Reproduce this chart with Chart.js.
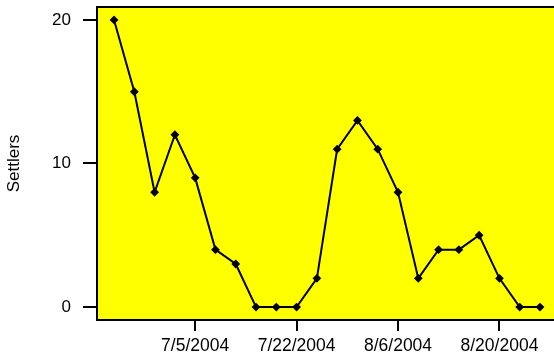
<!DOCTYPE html>
<html>
<head>
<meta charset="utf-8">
<script src="https://cdn.jsdelivr.net/npm/chart.js@4/dist/chart.umd.min.js"></script>
<style>
  body { margin: 0; background: #fff; }
  #wrap { width: 554px; height: 355px; }
</style>
</head>
<body>
<div id="wrap"><canvas id="settlersChart" width="554" height="355"></canvas></div>
<script>
// sampling dates, one per point
const dates = [
    '6/21/2004', '6/24/2004', '6/28/2004', '7/1/2004', '7/5/2004',
    '7/8/2004', '7/12/2004', '7/15/2004', '7/19/2004', '7/22/2004',
    '7/25/2004', '7/28/2004', '7/31/2004', '8/3/2004', '8/6/2004',
    '8/9/2004', '8/12/2004', '8/15/2004', '8/17/2004', '8/20/2004',
    '8/24/2004', '8/27/2004'
];
const settlers = [20, 15, 8, 12, 9, 4, 3, 0, 0, 0, 2, 11, 13, 11, 8, 2, 4, 4, 5, 2, 0, 0];
const xTickIndex = [4, 9, 14, 19];
const yTicks = [0, 10, 20];

// yellow plot panel with a top edge line
const panel = {
    id: 'panel',
    beforeDraw(chart) {
        const { ctx, chartArea: a } = chart;
        ctx.save();
        ctx.fillStyle = '#ffff00';
        ctx.fillRect(a.left, a.top, a.right - a.left, a.bottom - a.top);
        ctx.restore();
    },
    beforeDatasetsDraw(chart) {
        const { ctx, chartArea: a } = chart;
        ctx.save();
        ctx.strokeStyle = '#000';
        ctx.lineWidth = 2;
        ctx.beginPath();
        ctx.moveTo(a.left - 1, a.top);
        ctx.lineTo(a.right, a.top);
        ctx.stroke();
        ctx.restore();
    }
};

// no extra room for overhanging tick labels
function noOverhang(scale) {
    scale.paddingTop = 0;
    scale.paddingBottom = 0;
    scale.paddingLeft = 0;
    scale.paddingRight = 0;
}

const settlersChart = new Chart(document.getElementById('settlersChart'), {
    type: 'line',
    data: {
        datasets: [{
            label: 'Settlers',
            data: settlers.map((v, i) => ({ x: i, y: v })),
            borderColor: '#000',
            borderWidth: 2,
            pointStyle: 'rectRot',
            pointRadius: 3,
            pointBackgroundColor: '#000',
            pointBorderColor: '#000',
            tension: 0
        }]
    },
    options: {
        responsive: false,
        animation: false,
        layout: { autoPadding: false, padding: { top: 7, right: 0, left: 0, bottom: 0 } },
        plugins: {
            legend: { display: false },
            tooltip: { enabled: false }
        },
        scales: {
            x: {
                type: 'linear',
                min: -0.84,
                max: 21.69,
                afterBuildTicks: (scale) => { scale.ticks = xTickIndex.map(v => ({ value: v })); },
                afterFit: (scale) => { scale.height = 35; noOverhang(scale); },
                grid: { drawOnChartArea: false, drawTicks: true, tickLength: 11, tickColor: '#000', lineWidth: 2 },
                border: { display: true, color: '#000', width: 2 },
                ticks: {
                    autoSkip: false,
                    maxRotation: 0,
                    padding: 5,
                    color: '#000',
                    font: { family: 'Liberation Sans, Arial, sans-serif', size: 17.5 },
                    callback: (v) => dates[v]
                }
            },
            y: {
                min: -0.9,
                max: 20.9,
                afterBuildTicks: (scale) => { scale.ticks = yTicks.map(v => ({ value: v })); },
                afterFit: (scale) => { scale.width = 97; noOverhang(scale); },
                grid: { drawOnChartArea: false, drawTicks: true, tickLength: 14, tickColor: '#000', lineWidth: 2 },
                border: { display: true, color: '#000', width: 2 },
                ticks: {
                    padding: 12,
                    color: '#000',
                    font: { family: 'Liberation Sans, Arial, sans-serif', size: 17 }
                },
                title: {
                    display: true,
                    text: 'Settlers',
                    color: '#000',
                    padding: { top: 4, bottom: 0 },
                    font: { family: 'Liberation Sans, Arial, sans-serif', size: 17 }
                }
            }
        }
    },
    plugins: [panel]
});
</script>
</body>
</html>
